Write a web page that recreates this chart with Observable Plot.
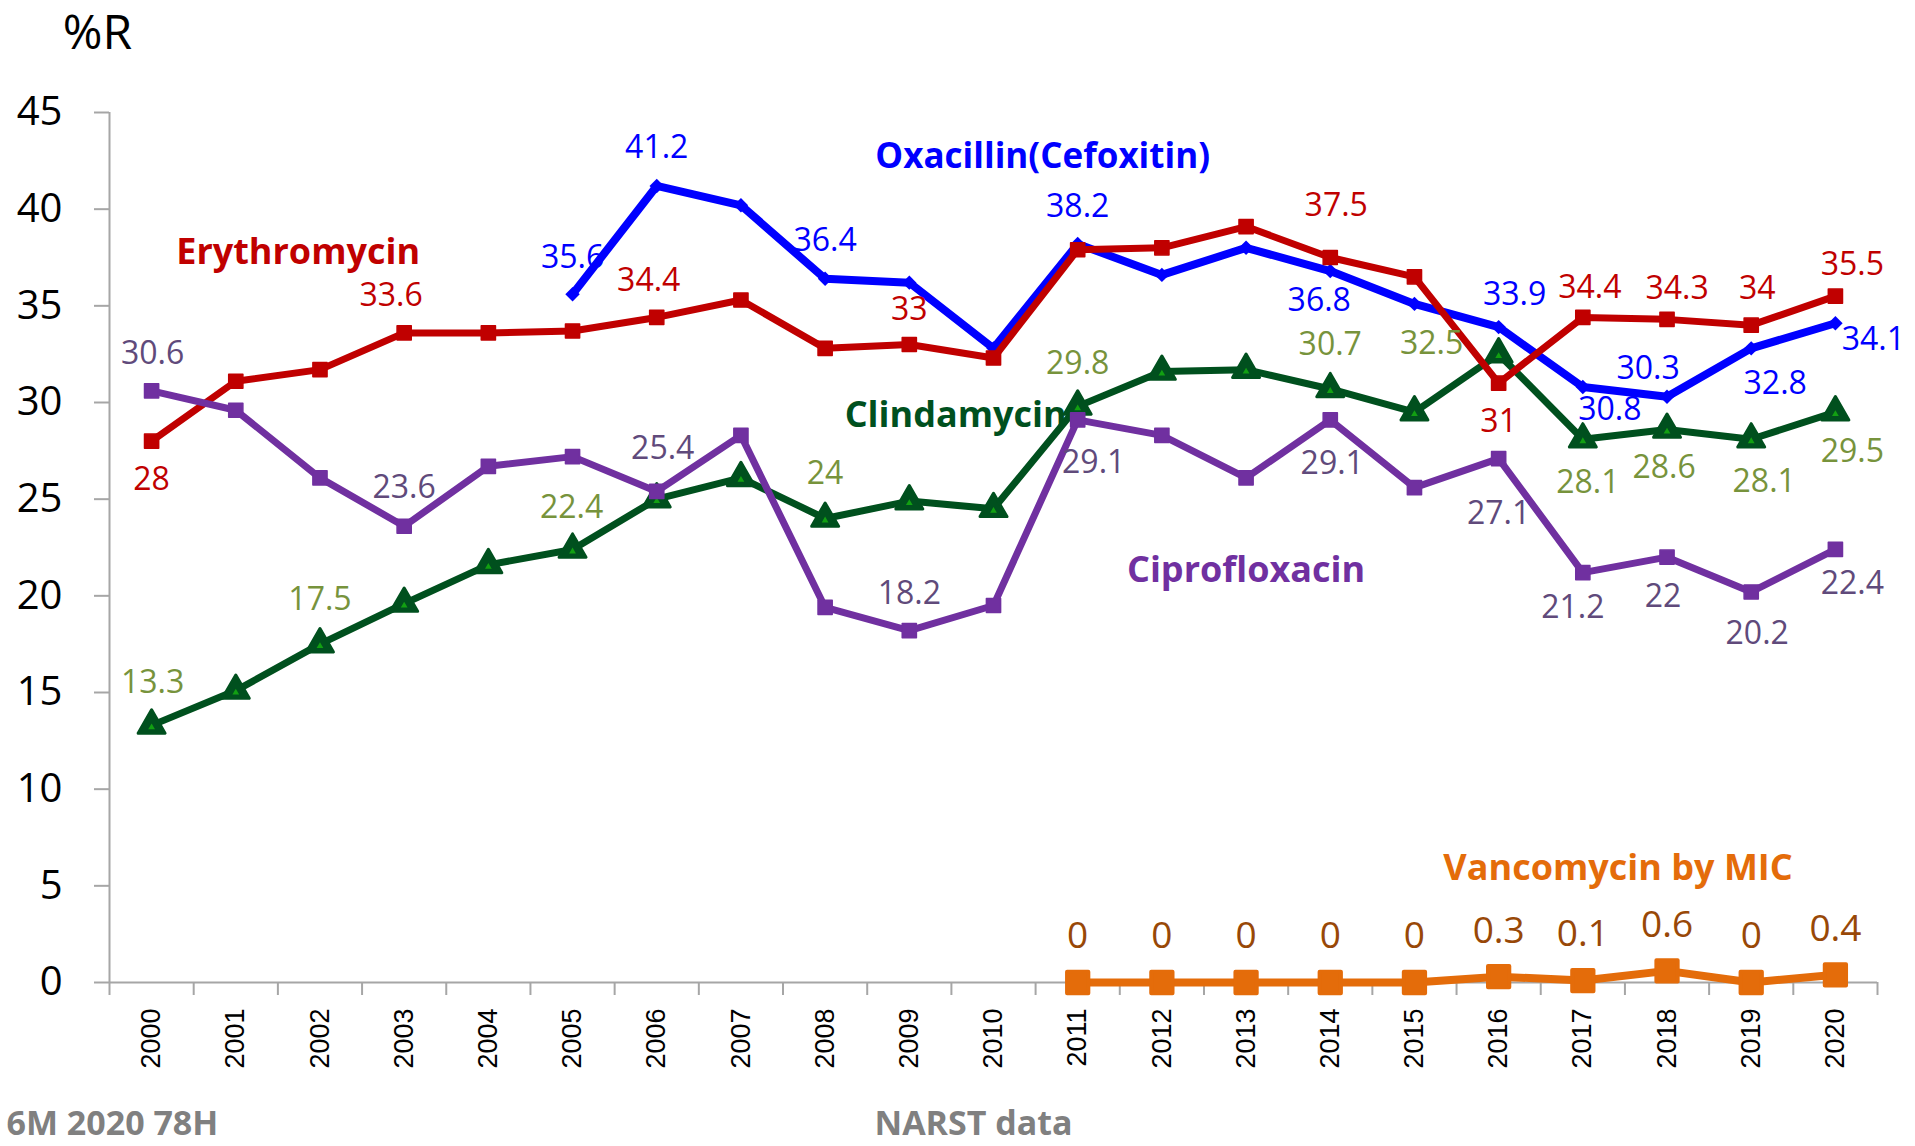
<!DOCTYPE html>
<html><head><meta charset="utf-8">
<script src="https://cdn.jsdelivr.net/npm/d3@7"></script>
<script src="https://cdn.jsdelivr.net/npm/@observablehq/plot@0.6"></script>
<style>
html,body{margin:0;padding:0;background:#fff;}
#chart svg{display:block;}
</style></head><body><div id="chart"></div>
<script>
// ---------------- DATA ----------------
const years = [2000,2001,2002,2003,2004,2005,2006,2007,2008,2009,2010,2011,2012,2013,2014,2015,2016,2017,2018,2019,2020];
const erythromycin  = [28, 31.1, 31.7, 33.6, 33.6, 33.7, 34.4, 35.3, 32.8, 33, 32.3, 37.9, 38.0, 39.1, 37.5, 36.5, 31, 34.4, 34.3, 34, 35.5];
const oxacillin     = [null, null, null, null, null, 35.6, 41.2, 40.2, 36.4, 36.2, 32.8, 38.2, 36.6, 38.0, 36.8, 35.1, 33.9, 30.8, 30.3, 32.8, 34.1];
const clindamycin   = [13.3, 15.1, 17.5, 19.6, 21.6, 22.4, 25.0, 26.1, 24, 24.9, 24.5, 29.8, 31.6, 31.7, 30.7, 29.5, 32.5, 28.1, 28.6, 28.1, 29.5];
const ciprofloxacin = [30.6, 29.6, 26.1, 23.6, 26.7, 27.2, 25.4, 28.3, 19.4, 18.2, 19.5, 29.1, 28.3, 26.1, 29.1, 25.6, 27.1, 21.2, 22, 20.2, 22.4];
const vancomycin    = [null, null, null, null, null, null, null, null, null, null, null, 0, 0, 0, 0, 0, 0.3, 0.1, 0.6, 0, 0.4];
const yTicks = [0, 5, 10, 15, 20, 25, 30, 35, 40, 45];
const seriesNames = ["Erythromycin", "Oxacillin(Cefoxitin)", "Clindamycin", "Ciprofloxacin", "Vancomycin by MIC"];
const axisTitle = "%R";
const footerLeft = "6M 2020 78H";
const footerMid = "NARST data";

// ---------------- LAYOUT / STYLE ----------------
const SANS = "'Open Sans', 'Noto Sans', sans-serif";
const ARIAL = "'Liberation Sans', Arial, sans-serif";
const AXIS = "#A6A6A6";
const rows = vals => years.map((year, i) => ({year, value: vals[i]}));

// label placements (pixel offsets from the data point)
const ERY_LAB = {2000:[0,39],2003:[-13,-37],2006:[-8,-37],2009:[0,-35],2014:[6,-52],2016:[0,39],2017:[7,-30],2018:[10,-31],2019:[6,-36],2020:[17,-31]};
const OXA_LAB = {2005:[0,-36],2006:[0,-38],2008:[0,-38],2011:[0,-37],2014:[-11,30],2016:[16,-32],2017:[27,23],2018:[-19,-28],2019:[24,35],2020:[38,17]};
const CIP_LAB = {2000:[1,-37],2003:[0,-38],2006:[6,-43],2009:[0,-37],2011:[16,43],2014:[2,44],2016:[0,55],2017:[-10,35],2018:[-4,40],2019:[6,42],2020:[17,34]};
const CLI_LAB = {2000:[1,-43],2002:[0,-44],2005:[-1,-42],2008:[0,-45],2011:[0,-43],2014:[0,-44],2016:[-67,-10],2017:[5,44],2018:[-3,38],2019:[13,43],2020:[17,40]};
const VAN_LAB = {2011:[0,-46],2012:[0,-46],2013:[0,-46],2014:[0,-46],2015:[0,-46],2016:[0,-46],2017:[0,-46],2018:[0,-46],2019:[0,-46],2020:[0,-46]};

function labelMarks(vals, placements, fill, fontSize) {
  return Object.entries(placements).map(([yr, [dx, dy]]) => {
    const i = years.indexOf(+yr);
    return Plot.text([{year: +yr, value: vals[i]}], {
      x: "year", y: "value", text: d => String(d.value), dx, dy,
      fill, fontSize, fontFamily: SANS
    });
  });
}
function nameMark(name, vals, yr, dx, dy, fill, fontSize = 36) {
  const i = years.indexOf(yr);
  return Plot.text([{year: yr, value: vals[i]}], {
    x: "year", y: "value", text: () => name, dx, dy,
    fill, fontSize, fontWeight: 700, fontFamily: SANS
  });
}

const edges = years.map(y => y - 0.5).concat([years[years.length - 1] + 0.5]);

const chart = Plot.plot({
  width: 1915, height: 1146,
  marginLeft: 109, marginRight: 38, marginTop: 112, marginBottom: 164,
  style: {background: "#fff", fontFamily: SANS, overflow: "visible"},
  x: {type: "linear", domain: [edges[0], edges[edges.length - 1]], axis: null},
  y: {type: "linear", domain: [0, 45], axis: null},
  marks: [
    // axes
    Plot.ruleX([edges[0]], {y1: 0, y2: 45, stroke: AXIS, strokeWidth: 2}),
    Plot.axisY(yTicks, {anchor: "left", tickSize: 15, tickPadding: 32, tickFormat: d => String(d),
      stroke: AXIS, strokeWidth: 2, fill: "#000", fontSize: 40, fontFamily: SANS, label: null}),
    Plot.ruleY([0], {stroke: AXIS, strokeWidth: 2}),
    Plot.ruleX(edges, {y1: 0, y2: 0, insetBottom: -13, stroke: AXIS, strokeWidth: 2}),
    Plot.text(years, {x: d => d, y: () => 0, text: d => String(d), dy: 26, rotate: -90,
      textAnchor: "end", lineAnchor: "middle", fontSize: 27, fontFamily: ARIAL, fill: "#000"}),
    // titles & footers
    Plot.text([axisTitle], {frameAnchor: "top-left", dx: -12, dy: -79, text: d => d,
      textAnchor: "middle", lineAnchor: "middle", fontSize: 48, fontFamily: SANS, fill: "#000"}),
    Plot.text([footerLeft], {frameAnchor: "bottom-left", dx: -103, dy: 142, text: d => d, textAnchor: "start",
      lineAnchor: "middle", fontSize: 34, fontWeight: 700, fontFamily: SANS, fill: "#808080"}),
    Plot.text([footerMid], {frameAnchor: "bottom-left", dx: 765, dy: 142, text: d => d, textAnchor: "start",
      lineAnchor: "middle", fontSize: 34, fontWeight: 700, fontFamily: SANS, fill: "#808080"}),
    // series names
    nameMark(seriesNames[0], erythromycin, 2003, -106, -80, "#C00000"),
    nameMark(seriesNames[1], oxacillin, 2011, -35, -87, "#0000FF", 35),
    nameMark(seriesNames[2], clindamycin, 2011, -122, 9, "#00501E"),
    nameMark(seriesNames[3], ciprofloxacin, 2013, 0, 93, "#7030A0"),
    nameMark(seriesNames[4], vancomycin, 2018, -49, -102, "#E46C0A"),
    // Clindamycin
    Plot.line(rows(clindamycin), {x: "year", y: "value", stroke: "#00501E", strokeWidth: 7}),
    Plot.dot(rows(clindamycin), {x: "year", y: "value", symbol: "triangle", r: 10, fill: "#00501E",
      stroke: "#00501E", strokeWidth: 3, strokeLinejoin: "round"}),
    Plot.dot(rows(clindamycin), {x: "year", y: "value", symbol: "triangle", r: 2.5, fill: "#12A012", dy: 2}),
    // Oxacillin
    Plot.line(rows(oxacillin), {x: "year", y: "value", stroke: "#0000FF", strokeWidth: 8}),
    Plot.dot(rows(oxacillin), {x: "year", y: "value", symbol: "diamond2", r: 6.5, fill: "#0000FF"}),
    // Erythromycin
    Plot.line(rows(erythromycin), {x: "year", y: "value", stroke: "#C00000", strokeWidth: 7}),
    Plot.dot(rows(erythromycin), {x: "year", y: "value", symbol: "square", r: 8, fill: "#C00000",
      stroke: "#C00000", strokeWidth: 1.5, strokeLinejoin: "round"}),
    // Ciprofloxacin
    Plot.line(rows(ciprofloxacin), {x: "year", y: "value", stroke: "#7030A0", strokeWidth: 7}),
    Plot.dot(rows(ciprofloxacin), {x: "year", y: "value", symbol: "square", r: 8, fill: "#7030A0",
      stroke: "#7030A0", strokeWidth: 1.5, strokeLinejoin: "round"}),
    // Vancomycin
    Plot.line(rows(vancomycin), {x: "year", y: "value", stroke: "#E46C0A", strokeWidth: 8}),
    Plot.dot(rows(vancomycin), {x: "year", y: "value", symbol: "square", r: 12, fill: "#E46C0A",
      stroke: "#E46C0A", strokeWidth: 4, strokeLinejoin: "round"}),
    // data labels
    ...labelMarks(erythromycin, ERY_LAB, "#C00000", 32),
    ...labelMarks(oxacillin, OXA_LAB, "#0000FF", 32),
    ...labelMarks(ciprofloxacin, CIP_LAB, "#604A7B", 32),
    ...labelMarks(clindamycin, CLI_LAB, "#77933C", 32),
    ...labelMarks(vancomycin, VAN_LAB, "#984807", 37)
  ]
});
document.getElementById("chart").appendChild(chart);
</script>
</body></html>
